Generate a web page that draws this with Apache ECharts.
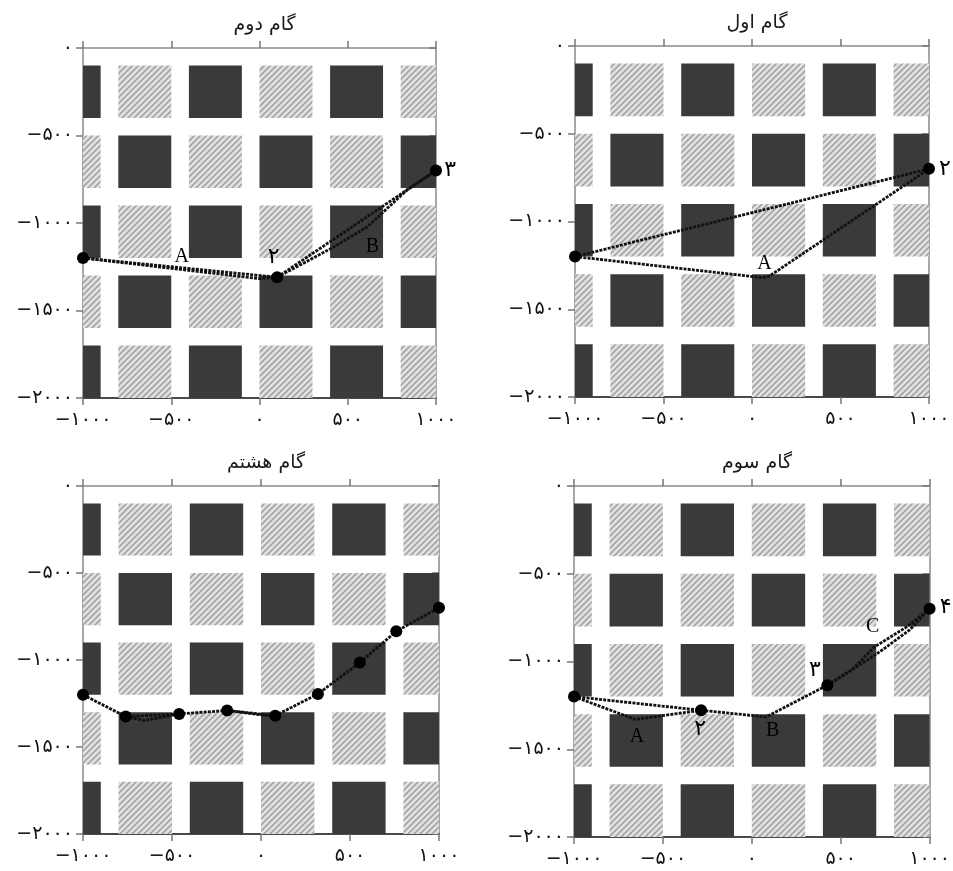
<!DOCTYPE html>
<html>
<head>
<meta charset="utf-8">
<script src="https://cdn.jsdelivr.net/npm/echarts@6/dist/echarts.min.js"></script>
<style>
  html, body { margin: 0; padding: 0; background: #fff; }
  #main { width: 953px; height: 871px; }
</style>
</head>
<body>
<div id="main"></div>
<script>
// axis ticks (same for every panel)
var xTicks = [-1000, -500, 0, 500, 1000];
var yTicks = [0, -500, -1000, -1500, -2000];

// background blocks: left edge of each column, top edge of each row, side length
var tileLeft = [-1200, -800, -400, 0, 400, 800];
var tileTop = [-100, -500, -900, -1300, -1700];
var tileSide = 300;

// step 1  (گام اول)
var step1Paths = [
    [[-1000, -1200], [1000, -700]],
    [[-1000, -1200], [60, -1320], [100, -1310], [1000, -700]]
];
var step1Nodes = [[-1000, -1200], [1000, -700]];
var step1Notes = [[70, -1240, 'A'], [1090, -700, '۲']];

// step 2  (گام دوم)
var step2Paths = [
    [[-1000, -1200], [100, -1310]],
    [[-1000, -1200], [0, -1318], [100, -1310]],
    [[100, -1310], [1000, -700]],
    [[100, -1310], [410, -1143], [610, -1023], [836, -811], [1000, -700]]
];
var step2Nodes = [[-1000, -1200], [100, -1310], [1000, -700]];
var step2Notes = [[-440, -1190, 'A'], [640, -1135, 'B'], [80, -1195, '۲'], [1080, -700, '۳']];

// step 3  (گام سوم)
var step3Paths = [
    [[-1000, -1200], [-285, -1278]],
    [[-1000, -1200], [-655, -1330], [-285, -1278]],
    [[-285, -1278], [80, -1316], [425, -1135]],
    [[425, -1135], [562, -1048], [690, -917], [871, -803], [1000, -700]],
    [[425, -1135], [562, -1048], [719, -945], [888, -820], [1000, -700]]
];
var step3Nodes = [[-1000, -1200], [-285, -1278], [425, -1135], [1000, -700]];
var step3Notes = [[-646, -1430, 'A'], [118, -1395, 'B'], [680, -800, 'C'],
    [-290, -1385, '۲'], [355, -1050, '۳'], [1090, -690, '۴']];

// step 8  (گام هشتم)
var step8Paths = [
    [[-1000, -1200], [-760, -1325], [-460, -1310], [-190, -1290], [80, -1320],
     [320, -1195], [555, -1015], [760, -835], [1000, -700]],
    [[-760, -1325], [-655, -1348], [-460, -1310]],
    [[-190, -1290], [20, -1318], [80, -1320]]
];
var step8Nodes = [[-1000, -1200], [-760, -1325], [-460, -1310], [-190, -1290], [80, -1320],
    [320, -1195], [555, -1015], [760, -835], [1000, -700]];
var step8Notes = [];

var panels = [
    { title: 'گام دوم', box: { left: 83, top: 48, width: 353, height: 350 },
      paths: step2Paths, nodes: step2Nodes, notes: step2Notes },
    { title: 'گام اول', box: { left: 575, top: 46, width: 354, height: 351 },
      paths: step1Paths, nodes: step1Nodes, notes: step1Notes },
    { title: 'گام هشتم', box: { left: 83, top: 486, width: 356, height: 348 },
      paths: step8Paths, nodes: step8Nodes, notes: step8Notes },
    { title: 'گام سوم', box: { left: 574, top: 486, width: 356, height: 351 },
      paths: step3Paths, nodes: step3Nodes, notes: step3Notes }
];

var persianFont = '"DejaVu Sans", sans-serif';
var latinFont = '"Liberation Serif", "DejaVu Serif", serif';

function toPersian(v) {
    var s = String(Math.abs(v)).replace(/\d/g, function (d) { return '۰۱۲۳۴۵۶۷۸۹'[d]; });
    return v < 0 ? '−' + s : s;
}

// hatched fill
function makeHatch() {
    var c = document.createElement('canvas');
    c.width = 6; c.height = 6;
    var g = c.getContext('2d');
    g.fillStyle = '#e2e2e2';
    g.fillRect(0, 0, 6, 6);
    g.strokeStyle = '#a4a4a4';
    g.lineWidth = 1.6;
    g.beginPath();
    g.moveTo(-1, 7); g.lineTo(7, -1);
    g.moveTo(-1, 1); g.lineTo(1, -1);
    g.moveTo(5, 7); g.lineTo(7, 5);
    g.stroke();
    return { image: c, repeat: 'repeat' };
}
var hatchFill = makeHatch();
var darkFill = '#3a3a3a';

var tiles = [];
tileTop.forEach(function (t, j) {
    tileLeft.forEach(function (l, i) {
        tiles.push([l, t, (i + j) % 2 === 0 ? 1 : 0]);
    });
});

function renderTile(params, api) {
    var x0 = api.value(0), y0 = api.value(1);
    var p1 = api.coord([x0, y0]);
    var p2 = api.coord([x0 + tileSide, y0 - tileSide]);
    var rect = echarts.graphic.clipRectByRect({
        x: p1[0], y: p1[1], width: p2[0] - p1[0], height: p2[1] - p1[1]
    }, params.coordSys);
    if (!rect) return;
    return {
        type: 'rect',
        shape: rect,
        style: { fill: api.value(2) === 1 ? darkFill : hatchFill }
    };
}

var option = {
    backgroundColor: '#fff',
    animation: false,
    title: [], grid: [], xAxis: [], yAxis: [], series: []
};

panels.forEach(function (p, k) {
    option.title.push({
        text: p.title,
        left: p.box.left + p.box.width / 2,
        top: p.box.top - 37,
        textAlign: 'center',
        textStyle: { fontFamily: persianFont, fontSize: 19, fontWeight: 'normal', color: '#1a1a1a' }
    });
    option.grid.push(p.box);

    var axisBase = {
        type: 'value', gridIndex: k, splitLine: { show: false },
        axisTick: { show: true, length: 7, lineStyle: { color: '#777', width: 1.5 } }
    };
    option.xAxis.push(Object.assign({}, axisBase, {
        position: 'bottom', min: -1000, max: 1000, interval: 500,
        axisLine: { show: true, onZero: false, lineStyle: { color: '#4a4a4a', width: 2 } },
        axisLabel: { margin: 13, color: '#111', fontSize: 19, fontFamily: persianFont,
            formatter: toPersian }
    }));
    option.xAxis.push(Object.assign({}, axisBase, {
        position: 'top', min: -1000, max: 1000, interval: 500,
        axisLine: { show: true, onZero: false, lineStyle: { color: '#8a8a8a', width: 1.5 } },
        axisLabel: { show: false }
    }));
    option.yAxis.push(Object.assign({}, axisBase, {
        position: 'left', min: -2000, max: 0, interval: 500,
        axisLine: { show: true, onZero: false, lineStyle: { color: '#8a8a8a', width: 1.5 } },
        axisLabel: { margin: 10, color: '#111', fontSize: 19, fontFamily: persianFont,
            formatter: toPersian }
    }));
    option.yAxis.push(Object.assign({}, axisBase, {
        position: 'right', min: -2000, max: 0, interval: 500,
        axisLine: { show: true, onZero: false, lineStyle: { color: '#8a8a8a', width: 1.5 } },
        axisTick: { show: true, inside: true, length: 7, lineStyle: { color: '#777', width: 1.5 } },
        axisLabel: { show: false }
    }));

    var xi = 2 * k, yi = 2 * k;
    option.series.push({
        type: 'custom', xAxisIndex: xi, yAxisIndex: yi, z: 1,
        renderItem: renderTile, data: tiles, silent: true
    });
    p.paths.forEach(function (path) {
        option.series.push({
            type: 'line', xAxisIndex: xi, yAxisIndex: yi, z: 3,
            data: path, showSymbol: false, clip: false, silent: true,
            lineStyle: { color: '#111', width: 2.8, type: [3, 1.2] }
        });
    });
    option.series.push({
        type: 'scatter', xAxisIndex: xi, yAxisIndex: yi, z: 4, clip: false,
        data: p.nodes, symbol: 'circle', symbolSize: 12,
        itemStyle: { color: '#000', opacity: 1 }
    });
    option.series.push({
        type: 'scatter', xAxisIndex: xi, yAxisIndex: yi, z: 5, clip: false,
        symbolSize: 0,
        itemStyle: { opacity: 1 },
        data: p.notes.map(function (n) {
            var persian = /[\u0600-\u06FF]/.test(n[2]);
            return {
                value: [n[0], n[1]], name: n[2],
                label: persian ? { fontFamily: persianFont, fontSize: 22 } : {}
            };
        }),
        label: {
            show: true, position: 'inside', formatter: '{b}',
            color: '#000',
            fontSize: 20,
            fontFamily: latinFont
        }
    });
});

var chart = echarts.init(document.getElementById('main'), null, { renderer: 'canvas' });
chart.setOption(option);
</script>
</body>
</html>
